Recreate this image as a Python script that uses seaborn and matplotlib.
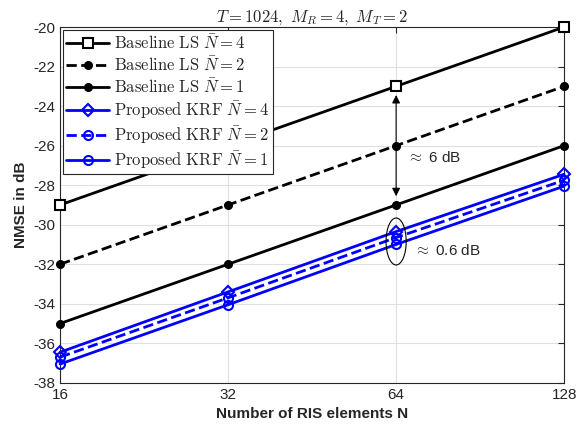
import numpy as np
import pandas as pd
import seaborn as sns
import matplotlib.pyplot as plt
from matplotlib.patches import Ellipse

# datos
n_ris = [16, 32, 64, 128]
ls_n4 = [-29.0, -26.0, -23.0, -20.0]
ls_n2 = [-32.0, -29.0, -26.0, -23.0]
ls_n1 = [-35.0, -32.0, -29.0, -26.0]
krf_n4 = [-36.45, -33.4, -30.35, -27.45]
krf_n2 = [-36.7, -33.7, -30.65, -27.75]
krf_n1 = [-37.05, -34.05, -31.0, -28.05]

etiquetas = [
    r"$\mathrm{Baseline\ LS}\ \bar{N}=4$",
    r"$\mathrm{Baseline\ LS}\ \bar{N}=2$",
    r"$\mathrm{Baseline\ LS}\ \bar{N}=1$",
    r"$\mathrm{Proposed\ KRF}\ \bar{N}=4$",
    r"$\mathrm{Proposed\ KRF}\ \bar{N}=2$",
    r"$\mathrm{Proposed\ KRF}\ \bar{N}=1$",
]

sns.set_style("whitegrid")
plt.rcParams["font.family"] = ["Liberation Sans", "DejaVu Sans"]
plt.rcParams["mathtext.fontset"] = "cm"

fig = plt.figure(figsize=(5.78, 4.36), dpi=100)
ax = fig.add_axes([0.104, 0.122, 0.872, 0.816])

estilos = [
    (ls_n4, "black", "-", "s", "white", 7),
    (ls_n2, "black", "--", "o", "black", 5),
    (ls_n1, "black", "-", "o", "black", 5),
    (krf_n4, "blue", "-", "D", "none", 6.5),
    (krf_n2, "blue", "--", "o", "none", 6.5),
    (krf_n1, "blue", "-", "o", "none", 6.5),
]

for (vals, col, ls, mk, mfc, ms), lab in zip(estilos, etiquetas):
    df = pd.DataFrame({"N": n_ris, "nmse": vals})
    sns.lineplot(data=df, x="N", y="nmse", ax=ax, color=col, linestyle=ls,
                 marker=mk, markerfacecolor=mfc, markeredgecolor=col,
                 markersize=ms, markeredgewidth=1.5, linewidth=2, label=lab,
                 clip_on=False, zorder=3)

ax.set_xscale("log", base=2)
ax.set_xlim(16, 128)
ax.set_ylim(-38, -20)
ax.set_xticks(n_ris)
ax.set_xticklabels([str(v) for v in n_ris])
ax.set_yticks(np.arange(-38, -19, 2))
ax.set_yticklabels([str(v) for v in range(-38, -19, 2)])
ax.minorticks_off()
ax.tick_params(direction="in", labelsize=11, length=4, top=True, right=True,
               colors="#262626")
ax.grid(True, color="#e0e0e0", linewidth=0.8)
for s in ax.spines.values():
    s.set_color("#262626")
    s.set_linewidth(0.8)

ax.set_xlabel("Number of RIS elements N", fontsize=11, fontweight="bold")
ax.set_ylabel("NMSE in dB", fontsize=11, fontweight="bold")
ax.set_title(r"$T=1024,\ M_R=4,\ M_T=2$", fontsize=12, pad=4)

leg = ax.legend(loc="upper left", fontsize=12, borderaxespad=0.15,
                fancybox=False, framealpha=1, edgecolor="#262626",
                handlelength=2.6, handletextpad=0.3, labelspacing=0.2,
                borderpad=0.2)
leg.get_frame().set_linewidth(0.8)
leg.set_zorder(5)

# anotaciones
ax.annotate("", xy=(64, -23.3), xytext=(64, -28.7),
            arrowprops=dict(arrowstyle="<|-|>", color="black", lw=0.8,
                            mutation_scale=12))
ax.text(67, -26.6, r"$\approx$ 6 dB", fontsize=11, va="center")
ax.add_patch(Ellipse((2 / 3, (-30.85 + 38) / 18), width=0.04, height=0.132,
                     transform=ax.transAxes, fill=False, color="black",
                     lw=0.8, zorder=4))
ax.text(69, -31.3, r"$\approx$ 0.6 dB", fontsize=11, va="center")

fig.savefig("out.png", dpi=100)
